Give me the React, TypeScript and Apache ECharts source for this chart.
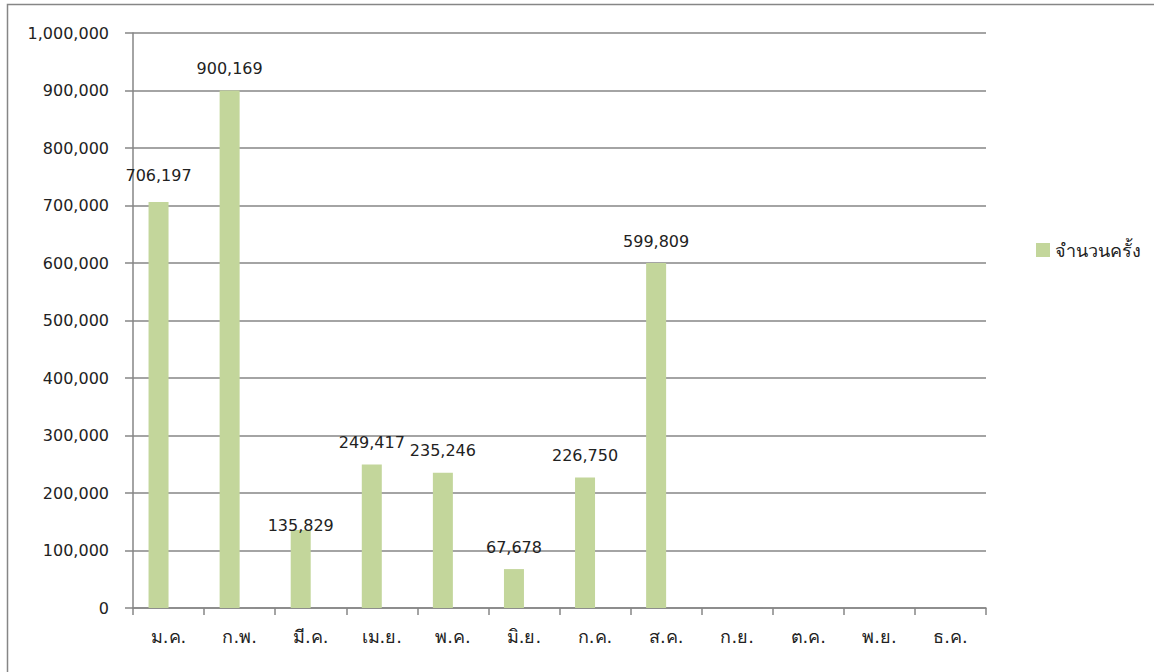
import React, { useEffect, useRef } from "react";
import * as echarts from "echarts";

const months = ["ม.ค.", "ก.พ.", "มี.ค.", "เม.ย.", "พ.ค.", "มิ.ย.", "ก.ค.", "ส.ค.", "ก.ย.", "ต.ค.", "พ.ย.", "ธ.ค."];
const counts: (number | null)[] = [706197, 900169, 135829, 249417, 235246, 67678, 226750, 599809, null, null, null, null];
const seriesName = "จำนวนครั้ง";

const FONT = "Tahoma, 'DejaVu Sans', 'Noto Sans', sans-serif";
const fmt = (v: number) => v.toLocaleString("en-US");

export default function App() {
  const ref = useRef<HTMLDivElement>(null);
  useEffect(() => {
    if (!ref.current) return;
    const chart = echarts.init(ref.current, undefined, { renderer: "svg" });
    const labelShift: Record<number, number> = { 0: -4, 2: 18 };
    chart.setOption({
      animation: false,
      backgroundColor: "#ffffff",
      textStyle: { fontFamily: FONT },
      graphic: [
        {
          type: "rect",
          shape: { x: 7.5, y: 4.5, width: 1200, height: 700 },
          style: { fill: "none", stroke: "#868686", lineWidth: 1.5 },
          silent: true,
        },
      ],
      grid: { left: 133, top: 33, width: 853, height: 575, containLabel: false },
      legend: {
        data: [seriesName],
        left: 1031,
        top: 236,
        orient: "vertical",
        itemWidth: 14,
        itemHeight: 14,
        itemGap: 6,
        icon: "rect",
        textStyle: { fontSize: 18, color: "#222", fontFamily: FONT },
      },
      xAxis: {
        type: "category",
        data: months,
        axisLine: { lineStyle: { color: "#868686", width: 1.5 } },
        axisTick: { show: true, length: 7, alignWithLabel: false, lineStyle: { color: "#868686", width: 1.5 } },
        axisLabel: { fontSize: 18, color: "#222", margin: 19, fontFamily: FONT },
      },
      yAxis: {
        type: "value",
        min: 0,
        max: 1000000,
        interval: 100000,
        axisLine: { show: true, lineStyle: { color: "#868686", width: 1.5 } },
        axisTick: { show: true, length: 8, inside: false, lineStyle: { color: "#868686", width: 1.5 } },
        splitLine: { lineStyle: { color: "#868686", width: 1.5 } },
        axisLabel: { fontSize: 16, color: "#222", margin: 24, fontFamily: FONT, formatter: (v: number) => fmt(v) },
      },
      series: [
        {
          name: seriesName,
          type: "bar",
          barWidth: 20,
          barGap: "0%",
          itemStyle: { color: "#c3d69b" },
          data: counts.map((v, i) => ({
            value: v,
            label: labelShift[i] ? { offset: [0, labelShift[i]] } : undefined,
          })),
          label: {
            show: true,
            position: "top",
            distance: 14,
            fontSize: 16,
            color: "#222",
            fontFamily: FONT,
            formatter: (p: any) => (p.value == null ? "" : fmt(p.value)),
          },
        },
        {
          name: "_spacer",
          type: "bar",
          barWidth: 20,
          barGap: "0%",
          data: counts.map(() => null),
          itemStyle: { color: "transparent" },
        },
      ],
    });
    return () => chart.dispose();
  }, []);
  return (
    <div
      ref={ref}
      style={{ position: "fixed", left: 0, top: 0, width: 1154, height: 672 }}
    />
  );
}
